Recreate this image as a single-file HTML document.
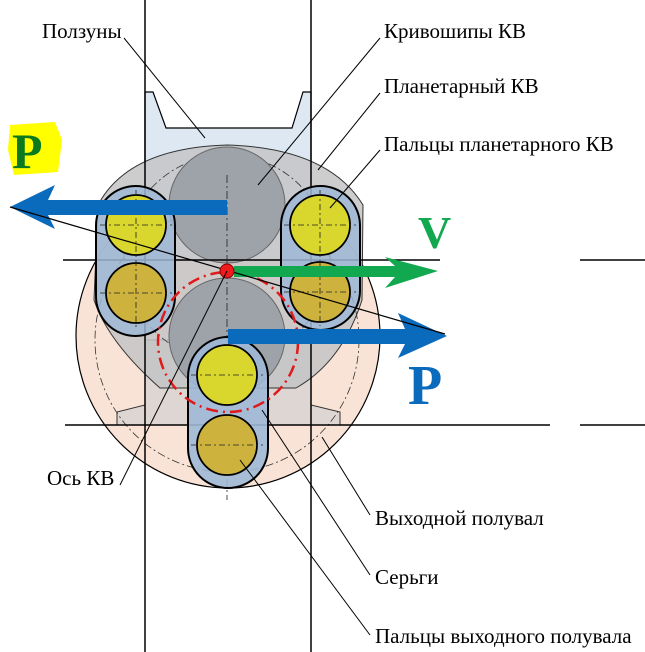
<!DOCTYPE html>
<html><head><meta charset="utf-8"><style>
html,body{margin:0;padding:0;background:#fff;width:645px;height:652px;overflow:hidden}
text{font-family:"Liberation Serif",serif}
</style></head><body>
<svg width="645" height="652" viewBox="0 0 645 652" xmlns="http://www.w3.org/2000/svg">
<circle cx="228" cy="336" r="152" fill="#f9e3d6" stroke="#000" stroke-width="1.2"/>
<polygon points="145,340 145,405 117,412 117,425 340,425 340,412 311,405 311,340" fill="#ddd6d3" stroke="#333" stroke-width="1"/>
<polygon points="145,92 153,92 166,128 292,128 303,92 311,92 311,260 145,260" fill="#dde8f3" stroke="#000" stroke-width="1.2"/>
<path d="M98,205 Q128,148 227,145 Q328,148 363,205 L362,300 Q342,362 296,388 L160,388 Q108,342 94,300 Z" fill="#c4c4c6" fill-opacity="0.85" stroke="#333" stroke-width="1"/>
<circle cx="227" cy="258" r="103" fill="none" stroke="#333" stroke-width="0.8" stroke-dasharray="8,3,2,3"/>
<circle cx="227" cy="340" r="132" fill="none" stroke="#333" stroke-width="0.8" stroke-dasharray="8,3,2,3"/>
<circle cx="227" cy="205" r="58" fill="#9ea2a9" stroke="#666" stroke-width="1"/>
<circle cx="227" cy="336" r="58" fill="#9ea2a9" stroke="#666" stroke-width="1"/>
<line x1="145" y1="0" x2="145" y2="652" stroke="#000" stroke-width="1.5"/>
<line x1="311" y1="0" x2="311" y2="652" stroke="#000" stroke-width="1.5"/>
<line x1="63" y1="260" x2="440" y2="260" stroke="#000" stroke-width="1.5"/>
<line x1="580" y1="260" x2="645" y2="260" stroke="#000" stroke-width="1.5"/>
<line x1="65" y1="425" x2="550" y2="425" stroke="#000" stroke-width="1.5"/>
<line x1="580" y1="425" x2="645" y2="425" stroke="#000" stroke-width="1.5"/>
<line x1="227" y1="175" x2="227" y2="500" stroke="#222" stroke-width="0.8" stroke-dasharray="8,3,2,3"/>
<g stroke="#000" stroke-width="2">
<rect x="96" y="186" width="79" height="150" rx="39.5" fill="#9fb8d6" fill-opacity="0.85"/>
<rect x="281" y="186" width="79" height="144" rx="39.5" fill="#9fb8d6" fill-opacity="0.85"/>
<rect x="188" y="337" width="80" height="151" rx="40" fill="#9fb8d6" fill-opacity="0.9"/>
</g>
<g stroke="#000" stroke-width="1.8">
<circle cx="136" cy="225" r="30" fill="#d9d62e"/>
<circle cx="136" cy="293" r="30" fill="#cdb23e"/>
<circle cx="320" cy="225" r="30" fill="#d9d62e"/>
<circle cx="320" cy="292" r="30" fill="#cdb23e"/>
<circle cx="227" cy="375" r="30" fill="#d9d62e"/>
<circle cx="227" cy="445" r="30" fill="#cdb23e"/>
</g>
<g stroke="#222" stroke-width="0.8" stroke-dasharray="6,3,2,3">
<line x1="100" y1="225" x2="172" y2="225"/><line x1="100" y1="293" x2="172" y2="293"/>
<line x1="136" y1="190" x2="136" y2="330"/><line x1="320" y1="190" x2="320" y2="326"/>
<line x1="284" y1="225" x2="356" y2="225"/><line x1="284" y1="292" x2="356" y2="292"/>
<line x1="191" y1="375" x2="263" y2="375"/><line x1="191" y1="445" x2="263" y2="445"/>
</g>
<circle cx="228" cy="342" r="70" fill="none" stroke="#e0191b" stroke-width="2.5" stroke-dasharray="12,5,2,5"/>
<polygon points="10,207 55,185 48,200 227,200 227,215 48,215 55,229" fill="#0a6bbd"/>
<polygon points="228,329 405,329 398,313 447,336 398,358 405,344 228,344" fill="#0a6bbd"/>
<polygon points="234,266 395,266 385,257 438,271 385,288 395,277 234,277" fill="#11a84f"/>
<line x1="10" y1="207" x2="445" y2="334" stroke="#000" stroke-width="1.2"/>
<circle cx="227" cy="271" r="7" fill="#ee1c1c" stroke="#800" stroke-width="1"/>
<g stroke="#000" stroke-width="1">
<line x1="124" y1="38" x2="205" y2="138"/>
<line x1="380" y1="38" x2="258" y2="185"/>
<line x1="380" y1="93" x2="318" y2="170"/>
<line x1="380" y1="150" x2="330" y2="208"/>
<line x1="120" y1="485" x2="227" y2="271"/>
<line x1="370" y1="515" x2="322" y2="437"/>
<line x1="370" y1="575" x2="262" y2="410"/>
<line x1="370" y1="635" x2="240" y2="460"/>
</g>
<path d="M10,125 L55,122 L62,140 L58,172 L14,175 L8,150 Z" fill="#ffff00"/>
<text x="12" y="168" font-size="50" font-weight="bold" fill="#0b7a1e">P</text>
<text x="418" y="248" font-size="46" font-weight="bold" fill="#11a84f">V</text>
<text x="408" y="404" font-size="56" font-weight="bold" fill="#0a6bbd">P</text>
<g font-size="21" fill="#000">
<text x="42" y="38">Ползуны</text>
<text x="384" y="38">Кривошипы КВ</text>
<text x="384" y="93">Планетарный КВ</text>
<text x="384" y="151">Пальцы планетарного КВ</text>
<text x="47" y="485">Ось КВ</text>
<text x="375" y="525">Выходной полувал</text>
<text x="375" y="584">Серьги</text>
<text x="375" y="643">Пальцы выходного полувала</text>
</g>
</svg>
</body></html>
